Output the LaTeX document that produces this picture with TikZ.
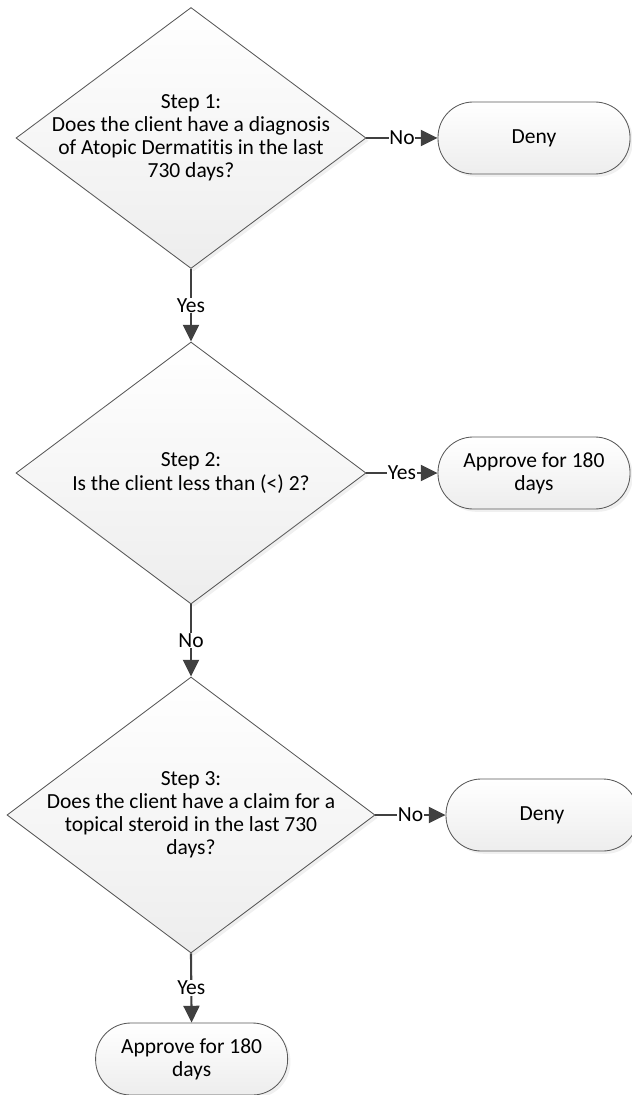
\documentclass[tikz,border=0pt]{standalone}
\usepackage{fontspec}
\setmainfont{Carlito}[Ligatures=NoCommon]
\usetikzlibrary{shapes.geometric, arrows.meta, shadows}
\definecolor{linegray}{HTML}{404040}
\definecolor{edgegray}{HTML}{595959}

\begin{document}
\begin{tikzpicture}[font=\fontsize{15.3}{16.4}\selectfont,
    decision/.style={diamond, draw=edgegray, line width=0.6pt, inner sep=0pt,
        top color=white, bottom color=gray!14,
        drop shadow={shadow xshift=0.07cm, shadow yshift=-0.07cm, opacity=0.12}},
    terminal/.style={rectangle, rounded corners=0.88cm, draw=edgegray, line width=0.6pt,
        minimum width=4.8cm, minimum height=1.8cm, align=center,
        top color=white, bottom color=gray!14,
        drop shadow={shadow xshift=0.07cm, shadow yshift=-0.07cm, opacity=0.12}},
    qtext/.style={align=center, inner sep=0pt},
    link/.style={draw=linegray, line width=1.5pt, -{Triangle[length=0.42cm, width=0.4cm]}},
    lbl/.style={midway, fill=white, inner sep=0.5pt}]
            \useasboundingbox (0,0) rectangle (15.8,-27.375);
            \node[decision, minimum width=8.75cm, minimum height=6.525cm] (d1) at (4.775,-3.45) {};
            \node[decision, minimum width=8.75cm, minimum height=6.55cm] (d2) at (4.775,-11.825) {};
            \node[decision, minimum width=9.2cm, minimum height=6.9cm] (d3) at (4.775,-20.375) {};
            \node[qtext] (t1) at (d1) {Step 1:\\Does the client have a diagnosis\\of Atopic Dermatitis in the last\\730 days?};
            \node[qtext] (t2) at (d2) {Step 2:\\Is the client less than (<) 2?};
            \node[qtext] (t3) at (d3) {Step 3:\\Does the client have a claim for a\\topical steroid in the last 730\\days?};
            \node[terminal] (deny1) at (13.35,-3.45) {Deny};
            \node[terminal] (approve2) at (13.35,-11.825) {Approve for 180\\days};
            \node[terminal] (deny3) at (13.55,-20.375) {Deny};
            \node[terminal] (approve3) at (4.79,-26.475) {Approve for 180\\days};
            \draw[link] (d1.east) -- node[lbl]{No} (deny1.west);
            \draw[link] (d1.south) -- node[lbl]{Yes} (d2.north);
            \draw[link] (d2.east) -- node[lbl]{Yes} (approve2.west);
            \draw[link] (d2.south) -- node[lbl]{No} (d3.north);
            \draw[link] (d3.east) -- node[lbl]{No} (deny3.west);
            \draw[link] (d3.south) -- node[lbl]{Yes} (approve3.north);
\end{tikzpicture}
\end{document}
